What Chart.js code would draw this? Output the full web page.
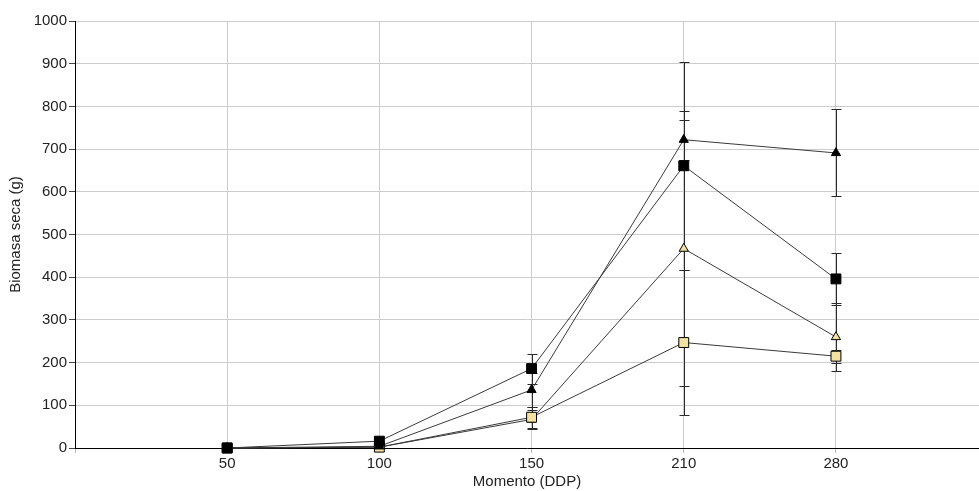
<!DOCTYPE html>
<html>
<head>
<meta charset="utf-8">
<script src="https://cdn.jsdelivr.net/npm/chart.js@4/dist/chart.umd.min.js"></script>
<style>
  html, body { margin: 0; padding: 0; background: #fff; overflow: hidden; }
  #wrap { width: 979px; height: 491px; position: relative; overflow: hidden; }
  #c { display: block; }
</style>
</head>
<body>
<div id="wrap"><canvas id="c"></canvas></div>
<script>
// Sampling moments (degree-days after planting)
const categories = ['50', '100', '150', '210', '280'];

// Dry biomass (g) per treatment
const blackSquare = [0, 16, 186, 661, 396];
const blackTriangle = [0, 4, 136, 722, 691];
const yellowSquare = [0, 2, 72, 247, 215];
const yellowTriangle = [0, 2, 67, 467, 260];

// Standard errors (g)
const blackSquareErr = [0, 0, 35, 244, 60];
const blackTriangleErr = [0, 0, 40, 47, 102];
const yellowSquareErr = [0, 0, 25, 170, 15];
const yellowTriangleErr = [0, 0, 22, 322, 80];

const yTicks = [0, 100, 200, 300, 400, 500, 600, 700, 800, 900, 1000];

const toPoints = arr => arr.map((v, i) => ({ x: i + 1, y: v }));

const lineColor = '#3a3a3a';
const pale = '#f1e2a3';

function series(label, values, errors, style, fill, radius) {
  return {
    label,
    data: toPoints(values),
    errors,
    borderColor: lineColor,
    borderWidth: 1,
    pointStyle: style,
    pointRadius: radius,
    pointHoverRadius: radius,
    pointBackgroundColor: fill,
    pointBorderColor: '#000',
    pointBorderWidth: 1,
    tension: 0,
    fill: false,
    clip: false
  };
}

// Vertical error bars with caps, drawn under the markers
const errorBars = {
  id: 'errorBars',
  beforeDatasetsDraw(chart) {
    const ctx = chart.ctx;
    const y = chart.scales.y;
    ctx.save();
    ctx.strokeStyle = '#2a2a2a';
    ctx.lineWidth = 1;
    chart.data.datasets.forEach((ds, di) => {
      const meta = chart.getDatasetMeta(di);
      ds.errors.forEach((e, i) => {
        if (!e) return;
        const px = Math.round(meta.data[i].x) + 0.5;
        const v = ds.data[i].y;
        const top = Math.round(y.getPixelForValue(v + e)) + 0.5;
        const bot = Math.round(y.getPixelForValue(v - e)) + 0.5;
        ctx.beginPath();
        ctx.moveTo(px, top); ctx.lineTo(px, bot);
        ctx.moveTo(px - 5, top); ctx.lineTo(px + 5, top);
        ctx.moveTo(px - 5, bot); ctx.lineTo(px + 5, bot);
        ctx.stroke();
      });
    });
    ctx.restore();
  }
};

const font = { family: '"Liberation Sans", Arial, sans-serif', size: 15 };

// Earlier datasets are painted on top of later ones
new Chart(document.getElementById('c'), {
  type: 'line',
  data: {
    datasets: [
      series('Negro cuadrado', blackSquare, blackSquareErr, 'rect', '#000', 7),
      series('Negro triángulo', blackTriangle, blackTriangleErr, 'triangle', '#000', 5.3),
      series('Amarillo cuadrado', yellowSquare, yellowSquareErr, 'rect', pale, 7),
      series('Amarillo triángulo', yellowTriangle, yellowTriangleErr, 'triangle', pale, 5.3)
    ]
  },
  options: {
    responsive: true,
    maintainAspectRatio: false,
    animation: false,
    layout: { autoPadding: false, padding: { top: 21, right: 0, left: 0, bottom: 0 } },
    plugins: { legend: { display: false }, tooltip: { enabled: false } },
    scales: {
      x: {
        type: 'linear',
        min: 0,
        max: 5.94,
        afterFit(s) { s.height = 43; s.paddingLeft = 0; s.paddingRight = 0; },
        grid: { color: '#cccccc', tickLength: 5, tickColor: '#bbbbbb', lineWidth: 1 },
        border: { color: '#000', width: 1 },
        ticks: {
          stepSize: 1,
          includeBounds: false,
          autoSkip: false,
          maxRotation: 0,
          padding: 2,
          color: '#222',
          font,
          callback: v => (v >= 1 && v <= categories.length) ? categories[v - 1] : ''
        },
        title: { display: true, text: 'Momento (DDP)', color: '#222', font, padding: { top: 4, bottom: 0 } }
      },
      y: {
        min: 0,
        max: 1000,
        afterFit(s) { s.width = 75; s.paddingTop = 0; },
        afterBuildTicks(s) { s.ticks = yTicks.map(v => ({ value: v })); },
        grid: { color: '#cccccc', tickLength: 6, tickColor: '#444', lineWidth: 1 },
        border: { color: '#000', width: 1 },
        ticks: { padding: 2, color: '#222', font, callback: v => String(v) },
        title: { display: true, text: 'Biomasa seca (g)', color: '#222', font, padding: { top: 7, bottom: 0 } }
      }
    }
  },
  plugins: [errorBars]
});
</script>
</body>
</html>
